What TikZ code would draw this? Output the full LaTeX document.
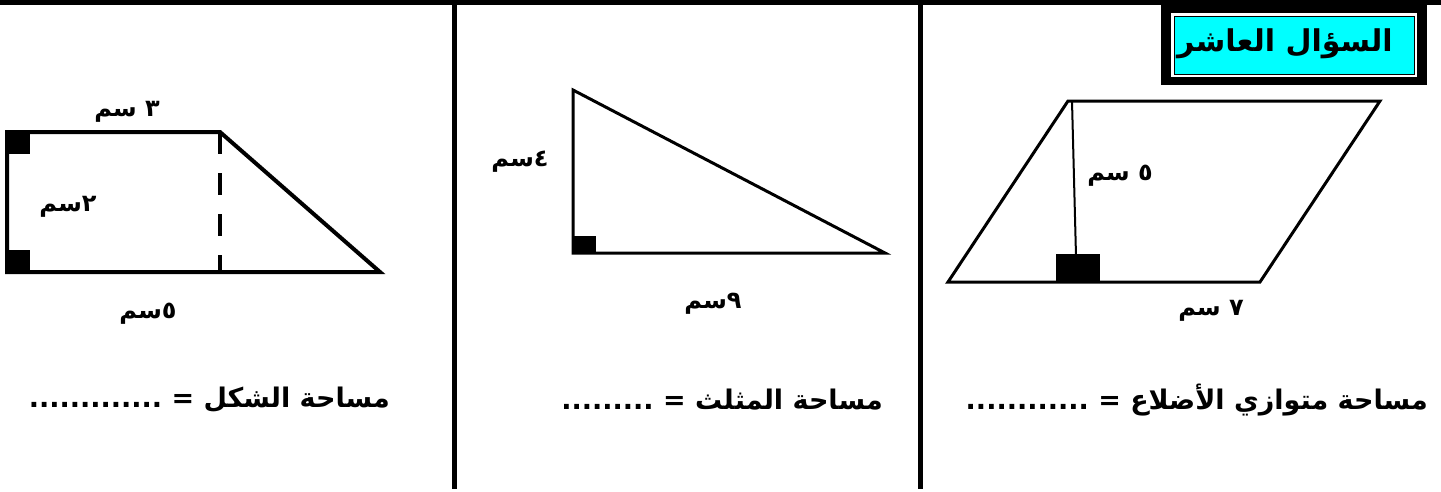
\documentclass[tikz,border=0pt]{standalone}
\usepackage{fontspec}
\newfontfamily\arabicfont[Script=Arabic]{DejaVu Sans}
\TeXXeTstate=1
\usetikzlibrary{positioning}
\definecolor{titlecyan}{RGB}{0,255,255}
\newcommand{\artxt}[1]{\arabicfont\bfseries\beginR #1\endR}

\begin{document}
\begin{tikzpicture}[x=1pt,y=-1pt,
  rule/.style={line width=5pt},
  edge/.style={line width=3pt,line join=miter},
  lbl/.style={font=\fontsize{24}{26}\selectfont,inner sep=0pt},
  ans/.style={font=\fontsize{27}{30}\selectfont,inner sep=0pt,anchor=east}]
  \useasboundingbox (0,0) rectangle (1441,491);
  \draw[rule] (0,2.5) -- (1441,2.5);
  \draw[rule] (454,0) -- (454,489);
  \draw[rule] (920,0) -- (920,489);
  \fill (1161,0) rectangle (1427,85);
  \fill[white] (1171,13) rectangle (1417,77);
  \draw[fill=titlecyan,line width=1pt] (1174,16) rectangle (1414,74);
  \node[font=\fontsize{30}{34}\selectfont,inner sep=0pt] (title) at (1285,44) {\artxt{السؤال العاشر}};
  \coordinate (pa) at (948,282); \coordinate (pb) at (1260,282);
  \coordinate (pc) at (1380,101); \coordinate (pd) at (1068,101);
  \draw[edge] (pa) -- (pb) -- (pc) -- (pd) -- cycle;
  \draw[line width=2pt] (1072,101) -- (1076,256);
  \fill (1056,254) rectangle (1100,283);
  \node[lbl] (ph) at (1120,176) {\artxt{٥ سم}};
  \node[lbl] (pw) at (1211,311) {\artxt{٧ سم}};
  \coordinate (ta) at (573,90); \coordinate (tb) at (573,253); \coordinate (tc) at (885,253);
  \draw[edge] (ta) -- (tb) -- (tc) -- cycle;
  \fill (573,236) rectangle (596,254);
  \node[lbl] (th) at (520,162) {\artxt{٤سم}};
  \node[lbl] (tw) at (713,304) {\artxt{٩سم}};
  \coordinate (za) at (7,132); \coordinate (zb) at (220,132);
  \coordinate (zc) at (380,272); \coordinate (zd) at (7,272);
  \draw[edge,line width=4pt] (zc) -- (zb) -- (za) -- (zd) -- cycle;
  \draw[line width=4pt,dash pattern=on 22pt off 19pt] (zb) -- (220,272);
  \fill (5,130) rectangle (30,154);
  \fill (5,250) rectangle (30,274);
  \node[lbl] (zt) at (127,112) {\artxt{٣ سم}};
  \node[lbl] (zh) at (68,207) {\artxt{٢سم}};
  \node[lbl] (zw) at (148,314) {\artxt{٥سم}};
  \node[ans] (pans) at (1428,400) {\artxt{مساحة متوازي الأضلاع = ............}};
  \node[ans] (tans) at (883,400) {\artxt{مساحة المثلث = .........}};
  \node[ans] (zans) at (390,400) {\artxt{مساحة الشكل = .............}};
\end{tikzpicture}
\end{document}
